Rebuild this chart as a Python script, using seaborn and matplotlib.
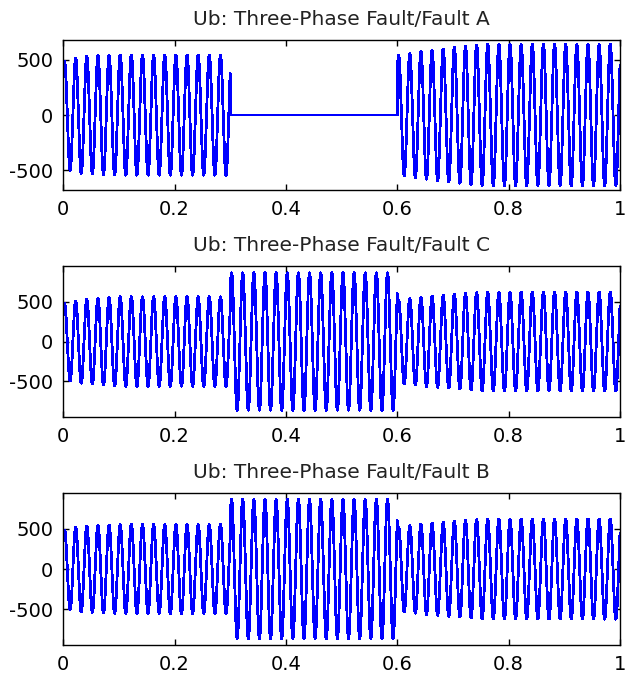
import numpy as np
import pandas as pd
import matplotlib
matplotlib.use('Agg')
import matplotlib.pyplot as plt
import seaborn as sns

# waveform settings
freq_hz = 50
fs = 20000
t_peak = 0.0025          # time of first positive peak (s)

titles = ['Ub: Three-Phase Fault/Fault A',
          'Ub: Three-Phase Fault/Fault C',
          'Ub: Three-Phase Fault/Fault B']

# peak envelopes (time, amplitude) per segment: before 0.3 / 0.3-0.6 / after 0.6
pre_t = [0.0, 0.03, 0.1, 0.3]
pre_a = [480, 530, 545, 545]
pre_c = [470, 520, 560, 560]
pre_b = [480, 530, 550, 550]

fault_t = [0.3, 0.6]
fault_a = [0, 0]
fault_c = [860, 860]
fault_b = [860, 860]

post_t = [0.6, 0.65, 0.75, 1.0]
post_a = [540, 580, 640, 640]
post_c = [520, 560, 615, 620]
post_b = [520, 560, 615, 620]

ylims = [680, 945, 940]
xticks = [0, 0.2, 0.4, 0.6, 0.8, 1]
xtick_labels = ['0', '0.2', '0.4', '0.6', '0.8', '1']
yticks = [-500, 0, 500]
ytick_labels = ['-500', '0', '500']

t = np.arange(0, 1 + 1 / fs, 1 / fs)


def build(pre, fault, post):
    env = np.where(t < 0.3, np.interp(t, pre_t, pre),
                   np.where(t < 0.6, np.interp(t, fault_t, fault),
                            np.interp(t, post_t, post)))
    return env * np.cos(2 * np.pi * freq_hz * (t - t_peak))


signals = [build(pre_a, fault_a, post_a),
           build(pre_c, fault_c, post_c),
           build(pre_b, fault_b, post_b)]

sns.set_style('ticks')
plt.rcParams['font.family'] = ['DejaVu Sans']
plt.rcParams['xtick.direction'] = 'in'
plt.rcParams['ytick.direction'] = 'in'

fig = plt.figure(figsize=(6.25, 6.75), dpi=100)
rects = [[0.101, 0.7185, 0.891, 0.2222],
         [0.101, 0.3822, 0.891, 0.2237],
         [0.101, 0.0444, 0.891, 0.2252]]

for rect, sig, title, yl in zip(rects, signals, titles, ylims):
    ax = fig.add_axes(rect)
    df = pd.DataFrame({'t': t, 'u': sig})
    sns.lineplot(data=df, x='t', y='u', ax=ax, color='#0000ff',
                 linewidth=1.3, estimator=None, errorbar=None,
                 antialiased=False)
    ax.set_xlim(0, 1)
    ax.set_ylim(-yl, yl)
    ax.set_xticks(xticks)
    ax.set_xticklabels(xtick_labels)
    ax.set_yticks(yticks)
    ax.set_yticklabels(ytick_labels)
    ax.set_xlabel('')
    ax.set_ylabel('')
    ax.set_title(title, fontsize=14.5, pad=11, color='#222222')
    ax.tick_params(labelsize=14, length=4, width=1, top=True, right=True,
                   colors='black')
    ax.tick_params(axis='x', pad=7)
    ax.tick_params(axis='y', pad=7)
    for s in ax.spines.values():
        s.set_visible(True)
        s.set_linewidth(1)
        s.set_color('black')

fig.savefig('out.png', dpi=100)
